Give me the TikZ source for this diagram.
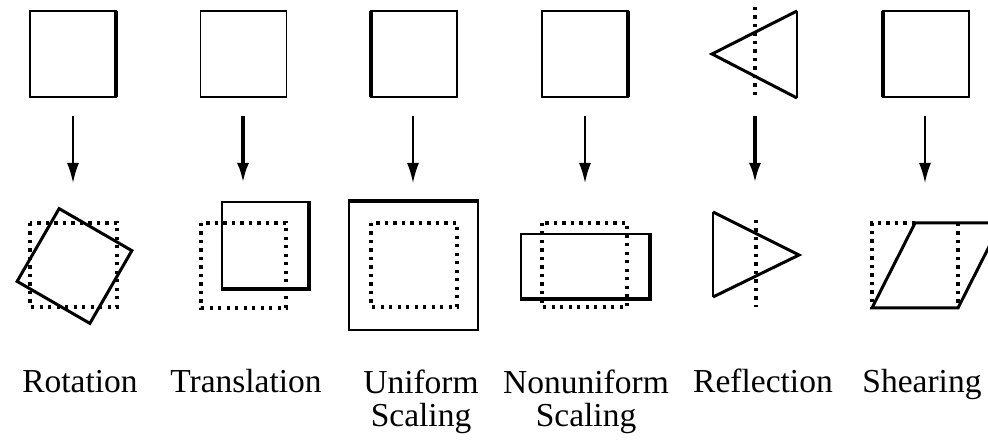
\documentclass[tikz,border=0pt]{standalone}
\usepackage{fontspec}
\setmainfont{Liberation Serif}
\usetikzlibrary{arrows.meta}
\begin{document}
\begin{tikzpicture}[x=1pt,y=-1pt,
  thinln/.style={line width=1.8pt},
  thickln/.style={line width=3.6pt},
  sq/.style={draw,thinln,minimum width=86pt,minimum height=86pt,inner sep=0pt,outer sep=0pt},
  dotln/.style={line width=3.2pt,dash pattern=on 3.2pt off 5.3pt},
  solidln/.style={line width=3pt,line join=miter},
  arr/.style={-{Latex[length=20pt,width=12pt]},thinln},
  arrthick/.style={-{Latex[length=20pt,width=12pt]},thickln},
  lbl/.style={font=\fontsize{33.5}{33}\selectfont,anchor=base,inner sep=0pt,align=center}]
\useasboundingbox (0,0) rectangle (988,443);
% top row
\node[sq] (s1) at (73,54) {};
\draw[thickln] (s1.north east) -- (s1.south east);
\node[sq] (s2) at (243.5,54) {};
\node[sq] (s3) at (414,54) {};
\draw[thickln] (s3.north west) -- (s3.south west);
\node[sq] (s4) at (585,54) {};
\draw[thickln] (s4.north east) -- (s4.south east);
\coordinate (t1) at (797,11);
\coordinate (t2) at (797,98);
\coordinate (t3) at (712,54);
\draw[solidln] (t1) -- (t3) -- (t2);
\draw[thinln] (t1) -- (t2);
\draw[dotln] (755,7) -- (755,95);
\node[sq] (s6) at (926,54) {};
\draw[thickln] (s6.north west) -- (s6.south west);
% arrows
\foreach \i/\x/\st in {1/73/arr,2/243/arrthick,3/413/arr,4/585/arr,5/755/arrthick,6/925/arr}{
  \coordinate (a\i) at (\x,116);
  \coordinate (b\i) at (\x,183);
  \draw[\st] (a\i) -- (b\i);
}
% rotation
\draw[dotln] (30,223) rectangle (117,307);
\node[draw,solidln,minimum width=84pt,minimum height=84pt,inner sep=0pt,rotate=-30] (r1) at (74.5,266) {};
% translation
\node[draw,thinln,minimum width=86pt,minimum height=86pt,inner sep=0pt] (tr) at (265,245) {};
\draw[thickln] (tr.north east) -- (tr.south east) -- (tr.south west);
\draw[dotln] (201,223) rectangle (286,308);
% uniform scaling
\node[draw,thinln,minimum width=129pt,minimum height=128pt,inner sep=0pt] (us) at (413.5,266) {};
\draw[thickln] (us.north west) -- (us.north east);
\draw[dotln] (371,223) rectangle (457,307);
% nonuniform scaling
\node[draw,thinln,minimum width=128pt,minimum height=64pt,inner sep=0pt] (ns) at (585,266) {};
\draw[thickln] (ns.south west) -- (ns.south east) -- (ns.north east);
\draw[dotln] (542,223) rectangle (627,307);
% reflection
\coordinate (u1) at (713,212);
\coordinate (u2) at (713,297);
\coordinate (u3) at (799,255);
\draw[solidln] (u1) -- (u3) -- (u2);
\draw[thinln] (u1) -- (u2);
\draw[dotln] (756,220) -- (756,307);
% shearing
\draw[dotln] (915,223) -- (872,223) -- (872,308);
\draw[dotln] (958,223) -- (958,308);
\coordinate (p1) at (872,308);
\coordinate (p2) at (958,308);
\coordinate (p3) at (1001,223);
\coordinate (p4) at (915,223);
\begin{scope}
\clip (0,0) rectangle (988,443);
\draw[solidln] (p1) -- (p2) -- (p3) -- (p4) -- cycle;
\end{scope}
% labels
\node[lbl] (l1) at (80,393) {Rotation};
\node[lbl] (l2) at (246,393) {Translation};
\node[lbl,anchor=north] (l3) at (421,370) {Uniform\\Scaling};
\node[lbl,anchor=north] (l4) at (586,370) {Nonuniform\\Scaling};
\node[lbl] (l5) at (763,393) {Reflection};
\node[lbl] (l6) at (922,393) {Shearing};
\end{tikzpicture}
\end{document}
